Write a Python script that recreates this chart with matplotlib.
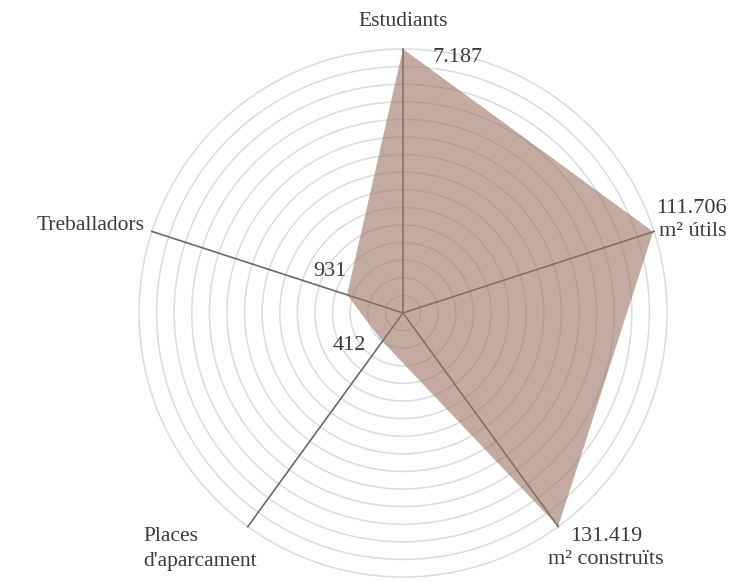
import numpy as np
import matplotlib
matplotlib.use("Agg")
from matplotlib import pyplot as plt

# data (each axis has its own scale)
categories = ["Estudiants", "m² útils", "m² construïts", "Places\nd'aparcament", "Treballadors"]
values = [7187, 111706, 131419, 412, 931]
value_labels = ["7.187", "111.706", "131.419", "412", "931"]
axis_max = [7187, 112150, 131419, 3100, 4175]

W, H = 744, 581
cx, cy, R = 403, 313, 264
pad = 1.01
Ra = R * pad

plt.rcParams['font.family'] = ['Liberation Serif', 'DejaVu Serif']
txt = '#3a3a3a'

fig = plt.figure(figsize=(W / 100, H / 100), dpi=100)
ax = fig.add_axes([(cx - Ra) / W, (H - cy - Ra) / H, 2 * Ra / W, 2 * Ra / H], projection='polar')
ax.set_theta_zero_location('N')
ax.set_theta_direction(-1)
ax.set_ylim(0, pad)

# rings
ax.set_yticks(np.linspace(0, 1, 16)[1:])
ax.set_yticklabels([])
ax.set_xticks([])
ax.yaxis.grid(True, color='#dcdcdc', lw=1.1)
ax.xaxis.grid(False)
ax.spines['polar'].set_visible(False)
ax.set_facecolor('none')

n = len(categories)
theta = np.arange(n) * 2 * np.pi / n
r = np.array(values) / np.array(axis_max)

for t in theta:
    ax.plot([t, t], [0, 1], color='#6a6a6a', lw=1.2, zorder=2)

ax.fill(np.append(theta, theta[0]), np.append(r, r[0]), color='#9c7462', alpha=0.6,
        lw=0, zorder=3)

def px(x, y):
    return x / W, 1 - y / H

fs = 15.5
fsn = 16
# category labels
fig.text(*px(403, 22), categories[0], ha='center', va='center', fontsize=fs, color=txt)
fig.text(*px(145, 225), categories[4], ha='right', va='center', fontsize=fs, color=txt)
fig.text(*px(143, 549), categories[3], ha='left', va='center', fontsize=fs, color=txt,
         linespacing=1.4)
# values
fig.text(*px(727, 220), value_labels[1] + "\n" + categories[1], ha='right', va='center',
         fontsize=fsn, color=txt, linespacing=1.35, multialignment='right')
fig.text(*px(606, 548), value_labels[2] + "\n" + categories[2], ha='center', va='center',
         fontsize=fsn, color=txt, linespacing=1.35)
fig.text(*px(432, 57), value_labels[0], ha='left', va='center', fontsize=fsn, color=txt)
fig.text(*px(330, 271), value_labels[4], ha='center', va='center', fontsize=fsn, color=txt)
fig.text(*px(349, 345), value_labels[3], ha='center', va='center', fontsize=fsn, color=txt)

fig.savefig('out.png', dpi=100)
